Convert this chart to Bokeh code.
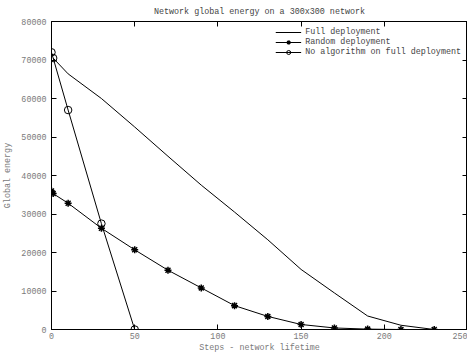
from bokeh.plotting import figure
from bokeh.models import Range1d, LinearAxis, FixedTicker, Legend, LegendItem
from bokeh.embed import file_html
from bokeh.resources import INLINE

# Data
full_steps = [1, 10, 30, 50, 70, 90, 110, 130, 150, 170, 190, 210, 230]
full_energy = [70500, 66400, 60000, 52600, 45000, 37500, 30500, 23300, 15600, 9500, 3500, 1100, 0]

rand_steps = [0, 1, 10, 30, 50, 70, 90, 110, 130, 150, 170, 190, 210, 230]
rand_energy = [36000, 35300, 32800, 26300, 20700, 15400, 10800, 6200, 3400, 1300, 400, 100, 0, 0]

noalg_steps = [0, 1, 10, 30, 50]
noalg_energy = [72000, 70500, 57000, 27500, 0]

x_ticks = [0, 50, 100, 150, 200, 250]
y_ticks = [0, 10000, 20000, 30000, 40000, 50000, 60000, 70000, 80000]

FONT = "Liberation Mono"
GRAY = "#7a7a7a"
FS = "8.4px"

p = figure(frame_width=416, frame_height=308, output_backend="svg", toolbar_location=None,
           x_range=Range1d(0, 250), y_range=Range1d(0, 80000),
           title="Network global energy on a 300x300 network",
           min_border_left=0, min_border_right=0, min_border_top=0, min_border_bottom=0)

p.title.text_font = FONT
p.title.text_font_size = FS
p.title.text_font_style = "normal"
p.title.text_color = "#444444"
p.title.align = "center"
p.title.offset = 0
p.title.standoff = 9

p.xgrid.visible = False
p.ygrid.visible = False
p.outline_line_color = "black"
p.outline_line_width = 1
p.background_fill_color = "white"
p.border_fill_color = "white"

for ax in (p.xaxis[0], p.yaxis[0]):
    ax.major_label_text_font = FONT
    ax.major_label_text_font_size = FS
    ax.major_label_text_color = GRAY
    ax.axis_label_text_font = FONT
    ax.axis_label_text_font_size = FS
    ax.axis_label_text_font_style = "normal"
    ax.axis_label_text_color = GRAY
    ax.major_tick_in = 5
    ax.major_tick_out = 0
    ax.minor_tick_in = 0
    ax.minor_tick_out = 0
    ax.axis_line_color = "black"
    ax.major_tick_line_color = "black"

p.xaxis[0].ticker = FixedTicker(ticks=x_ticks)
p.yaxis[0].ticker = FixedTicker(ticks=y_ticks)
p.xaxis[0].axis_label = "Steps - network lifetime"
p.yaxis[0].axis_label = "Global energy"
p.xaxis[0].major_label_standoff = 3
p.yaxis[0].major_label_standoff = 5
p.xaxis[0].axis_label_standoff = 1
p.yaxis[0].axis_label_standoff = 5

top = LinearAxis(ticker=FixedTicker(ticks=x_ticks),
                 major_label_overrides={t: "" for t in x_ticks},
                 major_label_standoff=0, major_tick_in=5, major_tick_out=0,
                 minor_tick_in=0, minor_tick_out=0, axis_line_color=None)
right = LinearAxis(ticker=FixedTicker(ticks=y_ticks),
                   major_label_overrides={t: "" for t in y_ticks},
                   major_label_standoff=0, major_tick_in=5, major_tick_out=0,
                   minor_tick_in=0, minor_tick_out=0, axis_line_color=None)
p.add_layout(top, "above")
p.add_layout(right, "right")

r_full = p.line(full_steps, full_energy, line_color="black", line_width=1)

r_rand_l = p.line(rand_steps, rand_energy, line_color="black", line_width=1)
r_rand_m = p.scatter(rand_steps, rand_energy, marker="asterisk", size=7,
                     line_color="black", line_width=1.5)

r_no_l = p.line(noalg_steps, noalg_energy, line_color="black", line_width=1)
r_no_m = p.scatter(noalg_steps, noalg_energy, marker="circle", size=7.5,
                   line_color="black", fill_color=None, line_width=1)

legend = Legend(items=[
    LegendItem(label="Full deployment", renderers=[r_full]),
    LegendItem(label="Random deployment", renderers=[r_rand_l, r_rand_m]),
    LegendItem(label="No algorithm on full deployment", renderers=[r_no_l, r_no_m]),
], location="top_right")
legend.label_text_font = FONT
legend.label_text_font_size = FS
legend.label_text_color = "#444444"
legend.border_line_color = None
legend.background_fill_alpha = 0
legend.spacing = -5
legend.padding = 2
legend.margin = 6
legend.glyph_width = 26
legend.glyph_height = 10
legend.label_height = 8
legend.label_standoff = 4
p.add_layout(legend)

open("out.html", "w").write(file_html(p, INLINE))
